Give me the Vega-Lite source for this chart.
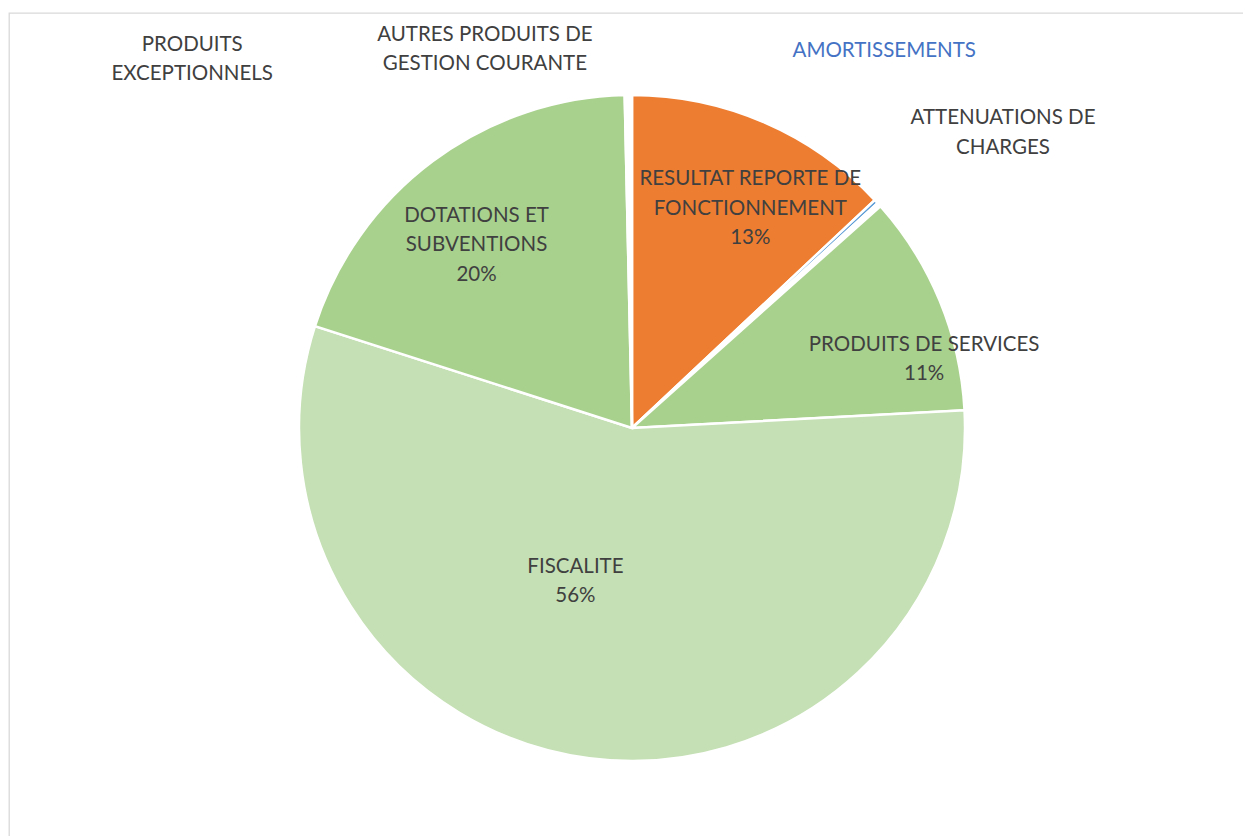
{
  "$schema": "https://vega.github.io/schema/vega-lite/v6.json",
  "width": 1246,
  "height": 830,
  "autosize": {"type": "none"},
  "padding": {"left": 9, "top": 13, "right": -12, "bottom": -7},
  "background": "#FFFFFF",
  "view": {"stroke": "#D9D9D9", "strokeWidth": 1.3, "fill": "#FFFFFF"},
  "config": {
    "view": {"stroke": "#D9D9D9", "strokeWidth": 1.3},
    "text": {"font": "Lato", "fontSize": 20.5, "color": "#404040", "lineHeight": 29.5}
  },
  "data": {
    "values": [
      {"name": "RESULTAT REPORTE DE FONCTIONNEMENT", "label": "RESULTAT REPORTE DE\nFONCTIONNEMENT", "value": 13.0, "order": 1},
      {"name": "AMORTISSEMENTS", "label": "AMORTISSEMENTS", "value": 0.2, "order": 2},
      {"name": "ATTENUATIONS DE CHARGES", "label": "ATTENUATIONS DE\nCHARGES", "value": 0.2, "order": 3},
      {"name": "PRODUITS DE SERVICES", "label": "PRODUITS DE SERVICES", "value": 10.75, "order": 4},
      {"name": "FISCALITE", "label": "FISCALITE", "value": 55.8, "order": 5},
      {"name": "DOTATIONS ET SUBVENTIONS", "label": "DOTATIONS ET\nSUBVENTIONS", "value": 19.7, "order": 6},
      {"name": "PRODUITS EXCEPTIONNELS", "label": "PRODUITS\nEXCEPTIONNELS", "value": 0.15, "order": 7},
      {"name": "AUTRES PRODUITS DE GESTION COURANTE", "label": "AUTRES PRODUITS DE\nGESTION COURANTE", "value": 0.2, "order": 8}
    ]
  },
  "transform": [
    {"joinaggregate": [{"op": "sum", "field": "value", "as": "total"}]},
    {"calculate": "datum.label + '\\n' + format(datum.value / datum.total, '.0%')", "as": "lblpct"}
  ],
  "encoding": {
    "theta": {"field": "value", "type": "quantitative", "stack": true},
    "order": {"field": "order", "type": "quantitative"}
  },
  "layer": [
    {
      "mark": {"type": "arc", "outerRadius": 333, "stroke": "#FFFFFF", "strokeWidth": 2.5},
      "encoding": {
        "color": {
          "field": "name", "type": "nominal", "legend": null,
          "scale": {
            "domain": ["RESULTAT REPORTE DE FONCTIONNEMENT", "AMORTISSEMENTS", "ATTENUATIONS DE CHARGES", "PRODUITS DE SERVICES", "FISCALITE", "DOTATIONS ET SUBVENTIONS", "PRODUITS EXCEPTIONNELS", "AUTRES PRODUITS DE GESTION COURANTE"],
            "range": ["#ED7D31", "#5B9BD5", "#FFFFFF", "#A9D18E", "#C5E0B4", "#A9D18E", "#FFFFFF", "#FFFFFF"]
          }
        }
      }
    },
    {
      "mark": {"type": "text", "radius": 250, "dx": 19, "dy": -19.5, "lineBreak": "\n", "baseline": "middle", "align": "center"},
      "encoding": {"text": {"condition": {"test": "datum.name === 'RESULTAT REPORTE DE FONCTIONNEMENT'", "field": "lblpct"}, "value": ""}}
    },
    {
      "mark": {"type": "text", "radius": 290, "dx": 24, "dy": 27.5, "lineBreak": "\n", "baseline": "middle", "align": "center"},
      "encoding": {"text": {"condition": {"test": "datum.name === 'PRODUITS DE SERVICES'", "field": "lblpct"}, "value": ""}}
    },
    {
      "mark": {"type": "text", "radius": 160, "dx": -36, "dy": -20, "lineBreak": "\n", "baseline": "middle", "align": "center"},
      "encoding": {"text": {"condition": {"test": "datum.name === 'FISCALITE'", "field": "lblpct"}, "value": ""}}
    },
    {
      "mark": {"type": "text", "radius": 240, "dx": -12, "dy": -20, "lineBreak": "\n", "baseline": "middle", "align": "center"},
      "encoding": {"text": {"condition": {"test": "datum.name === 'DOTATIONS ET SUBVENTIONS'", "field": "lblpct"}, "value": ""}}
    },
    {
      "mark": {"type": "text", "radius": 333, "dx": 8, "dy": -151, "lineBreak": "\n", "baseline": "middle", "align": "center", "color": "#4472C4"},
      "encoding": {"text": {"condition": {"test": "datum.name === 'AMORTISSEMENTS'", "field": "label"}, "value": ""}}
    },
    {
      "mark": {"type": "text", "radius": 333, "dx": 124, "dy": -86.5, "lineBreak": "\n", "baseline": "middle", "align": "center"},
      "encoding": {"text": {"condition": {"test": "datum.name === 'ATTENUATIONS DE CHARGES'", "field": "label"}, "value": ""}}
    },
    {
      "mark": {"type": "text", "radius": 333, "dx": -434, "dy": -50.5, "lineBreak": "\n", "baseline": "middle", "align": "center"},
      "encoding": {"text": {"condition": {"test": "datum.name === 'PRODUITS EXCEPTIONNELS'", "field": "label"}, "value": ""}}
    },
    {
      "mark": {"type": "text", "radius": 333, "dx": -145, "dy": -60.5, "lineBreak": "\n", "baseline": "middle", "align": "center"},
      "encoding": {"text": {"condition": {"test": "datum.name === 'AUTRES PRODUITS DE GESTION COURANTE'", "field": "label"}, "value": ""}}
    }
  ]
}
